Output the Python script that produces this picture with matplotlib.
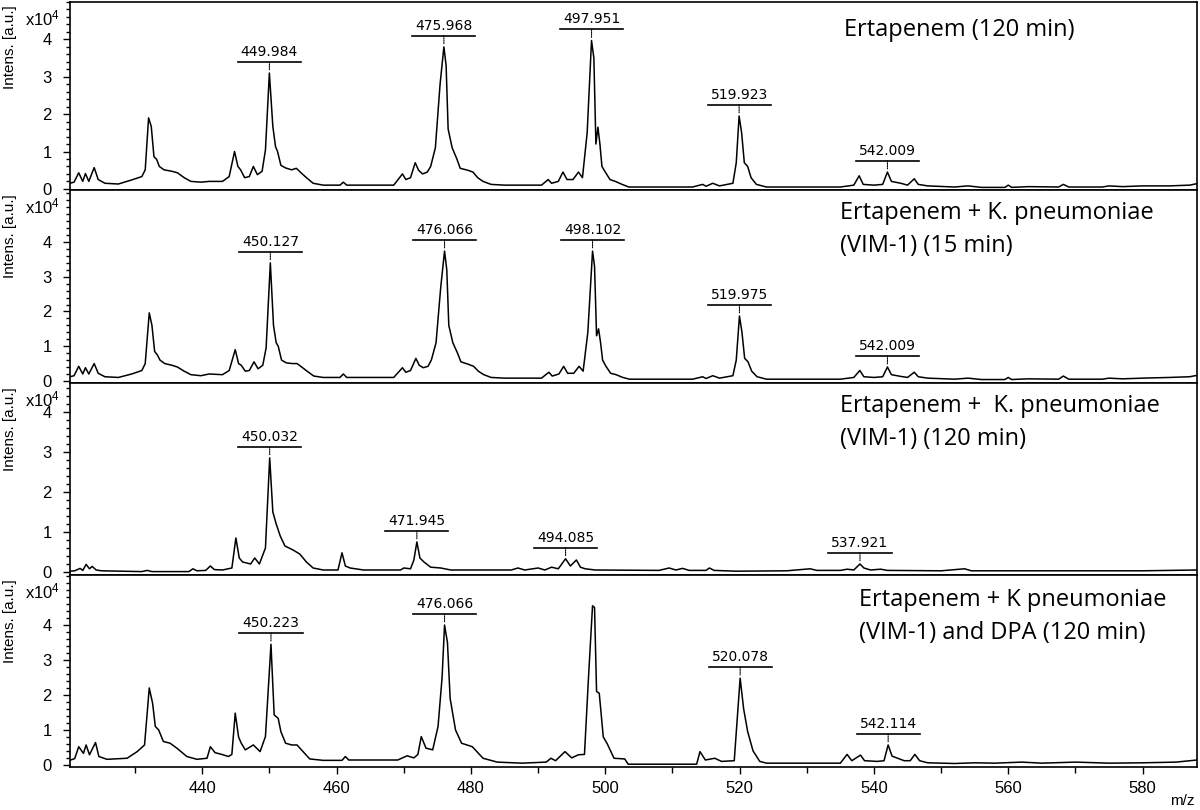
import numpy as np
import matplotlib
matplotlib.use('Agg')
import matplotlib.pyplot as plt
from matplotlib.ticker import MultipleLocator, FixedLocator
from matplotlib.transforms import offset_copy

# spectra: (m/z, intensity in 1e4 a.u.)
spec_ertapenem_120 = [
    (420.3, 0.15), (420.9, 0.18), (421.6, 0.43), (422.2, 0.2), (422.6, 0.41), (423.1, 0.2), (423.9, 0.57),
    (424.5, 0.25), (425.5, 0.15), (427.5, 0.13), (429.5, 0.24), (431.0, 0.33), (431.5, 0.51), (432.0, 1.9),
    (432.4, 1.67), (432.8, 0.86), (433.2, 0.79), (433.6, 0.6), (434.3, 0.51), (435.5, 0.47), (436.3, 0.43),
    (437.3, 0.3), (438.3, 0.2), (439.8, 0.18), (441.0, 0.2), (443.0, 0.2), (444.0, 0.33), (444.8, 1.0),
    (445.3, 0.6), (445.7, 0.51), (446.3, 0.3), (447.0, 0.33), (447.6, 0.6), (448.2, 0.38), (448.9, 0.47),
    (449.4, 1.04), (449.984, 3.1), (450.5, 1.67), (450.9, 1.13), (451.2, 1.0), (451.7, 0.63), (452.4, 0.56),
    (453.3, 0.51), (454.0, 0.55), (454.7, 0.43), (455.5, 0.3), (456.5, 0.15), (458.0, 0.1), (460.5, 0.1),
    (461.0, 0.18), (461.5, 0.1), (464.0, 0.1), (468.5, 0.1), (469.8, 0.4), (470.3, 0.25), (471.0, 0.3),
    (471.7, 0.7), (472.2, 0.5), (472.8, 0.4), (473.5, 0.45), (474.0, 0.6), (474.7, 1.1), (475.4, 2.8),
    (475.968, 3.8), (476.3, 3.3), (476.6, 1.6), (477.2, 1.1), (477.9, 0.8), (478.4, 0.55), (479.5, 0.5),
    (480.3, 0.45), (481.0, 0.3), (481.8, 0.2), (483.0, 0.12), (485.0, 0.1), (490.5, 0.1), (491.5, 0.25),
    (492.0, 0.15), (493.0, 0.2), (493.7, 0.45), (494.3, 0.25), (495.2, 0.25), (496.0, 0.45), (496.6, 0.3),
    (497.3, 1.5), (497.951, 3.97), (498.3, 3.5), (498.6, 1.2), (498.9, 1.65), (499.2, 1.2), (499.5, 0.6),
    (500.0, 0.45), (500.7, 0.25), (501.5, 0.2), (502.5, 0.12), (503.5, 0.05), (513.0, 0.05), (514.5, 0.12),
    (515.0, 0.07), (516.0, 0.15), (517.0, 0.08), (519.0, 0.15), (519.5, 0.7), (519.923, 1.95), (520.3, 1.5),
    (520.7, 0.7), (521.2, 0.6), (521.7, 0.3), (522.5, 0.12), (524.0, 0.05), (535.0, 0.05), (537.0, 0.1),
    (537.8, 0.35), (538.4, 0.12), (540.0, 0.1), (541.3, 0.12), (542.009, 0.45), (542.6, 0.2), (544.0, 0.15),
    (545.0, 0.1), (546.0, 0.27), (546.6, 0.12), (548.0, 0.08), (552.0, 0.05), (554.0, 0.08), (556.0, 0.04),
    (559.5, 0.04), (560.0, 0.1), (560.5, 0.04), (563.0, 0.06), (567.5, 0.05), (568.2, 0.12), (569.0, 0.05),
    (574.0, 0.05), (575.0, 0.08), (577.0, 0.06), (580.0, 0.08), (584.0, 0.08), (587.0, 0.1), (588.1, 0.14),
]
spec_kp_15 = [
    (420.3, 0.12), (420.9, 0.15), (421.6, 0.42), (422.2, 0.2), (422.6, 0.38), (423.1, 0.2), (423.9, 0.5),
    (424.5, 0.22), (425.5, 0.12), (427.5, 0.1), (429.5, 0.2), (431.0, 0.3), (431.5, 0.5), (432.1, 1.96),
    (432.5, 1.6), (432.9, 0.85), (433.3, 0.75), (433.7, 0.6), (434.4, 0.5), (435.5, 0.45), (436.3, 0.4),
    (437.3, 0.28), (438.3, 0.18), (439.8, 0.15), (441.0, 0.2), (443.0, 0.18), (444.0, 0.3), (444.9, 0.9),
    (445.4, 0.5), (445.8, 0.45), (446.4, 0.28), (447.0, 0.3), (447.7, 0.55), (448.3, 0.35), (449.0, 0.45),
    (449.5, 0.95), (450.127, 3.4), (450.6, 1.6), (451.0, 1.1), (451.3, 1.0), (451.8, 0.6), (452.5, 0.52),
    (453.4, 0.5), (454.1, 0.5), (454.8, 0.4), (455.6, 0.28), (456.6, 0.14), (458.0, 0.1), (460.5, 0.1),
    (461.0, 0.2), (461.5, 0.1), (464.0, 0.1), (468.5, 0.1), (469.8, 0.38), (470.3, 0.25), (471.0, 0.3),
    (471.8, 0.65), (472.3, 0.45), (472.9, 0.38), (473.6, 0.42), (474.1, 0.6), (474.8, 1.1), (475.5, 2.7),
    (476.066, 3.74), (476.4, 3.2), (476.7, 1.6), (477.3, 1.1), (478.0, 0.8), (478.5, 0.55), (479.6, 0.48),
    (480.4, 0.42), (481.1, 0.28), (481.9, 0.18), (483.0, 0.1), (485.0, 0.08), (490.5, 0.08), (491.6, 0.25),
    (492.1, 0.14), (493.1, 0.2), (493.8, 0.42), (494.4, 0.22), (495.3, 0.22), (496.1, 0.42), (496.7, 0.28),
    (497.4, 1.4), (498.102, 3.74), (498.4, 3.3), (498.7, 1.3), (499.0, 1.5), (499.3, 1.1), (499.6, 0.6),
    (500.1, 0.42), (500.8, 0.22), (501.6, 0.18), (502.6, 0.1), (503.6, 0.05), (513.0, 0.05), (514.5, 0.12),
    (515.0, 0.07), (516.0, 0.15), (517.0, 0.08), (519.0, 0.15), (519.5, 0.6), (519.975, 1.87), (520.35, 1.4),
    (520.75, 0.65), (521.25, 0.55), (521.8, 0.28), (522.6, 0.12), (524.0, 0.05), (535.0, 0.05), (537.0, 0.1),
    (537.9, 0.3), (538.5, 0.12), (540.0, 0.1), (541.3, 0.12), (542.009, 0.4), (542.6, 0.18), (544.0, 0.13),
    (545.0, 0.1), (546.0, 0.25), (546.6, 0.12), (548.0, 0.08), (552.0, 0.05), (554.0, 0.08), (556.0, 0.04),
    (559.5, 0.04), (560.0, 0.1), (560.5, 0.04), (563.0, 0.06), (567.5, 0.05), (568.2, 0.14), (569.0, 0.05),
    (574.0, 0.05), (575.0, 0.08), (577.0, 0.06), (580.0, 0.08), (584.0, 0.1), (587.0, 0.12), (588.1, 0.16),
]
spec_kp_120 = [
    (420.3, 0.02), (421.0, 0.03), (421.8, 0.09), (422.2, 0.04), (422.7, 0.19), (423.2, 0.08), (423.6, 0.14),
    (424.2, 0.05), (425.0, 0.03), (431.0, 0.01), (431.8, 0.04), (432.5, 0.01), (438.0, 0.01), (438.6, 0.08),
    (439.2, 0.03), (440.5, 0.04), (441.2, 0.15), (441.8, 0.06), (443.0, 0.05), (444.4, 0.1), (445.0, 0.85),
    (445.5, 0.35), (446.0, 0.25), (447.2, 0.2), (447.8, 0.35), (448.5, 0.2), (449.4, 0.6), (450.032, 2.85),
    (450.5, 1.5), (451.0, 1.2), (451.6, 0.9), (452.3, 0.65), (453.5, 0.55), (454.5, 0.45), (455.5, 0.25),
    (456.5, 0.1), (458.0, 0.05), (460.2, 0.05), (460.8, 0.48), (461.3, 0.15), (462.0, 0.1), (464.0, 0.05),
    (469.5, 0.05), (470.0, 0.1), (471.0, 0.08), (471.5, 0.3), (471.945, 0.75), (472.4, 0.35), (473.0, 0.25),
    (474.0, 0.12), (475.5, 0.1), (477.0, 0.05), (486.0, 0.05), (487.0, 0.1), (488.0, 0.05), (490.0, 0.1),
    (491.0, 0.05), (492.0, 0.12), (493.0, 0.08), (494.085, 0.33), (494.8, 0.15), (495.7, 0.3), (496.3, 0.12),
    (497.0, 0.08), (498.5, 0.05), (508.0, 0.04), (509.5, 0.1), (510.5, 0.05), (511.5, 0.09), (512.5, 0.04),
    (515.0, 0.04), (515.5, 0.1), (516.2, 0.04), (519.5, 0.02), (527.0, 0.03), (530.5, 0.08), (531.5, 0.04),
    (535.0, 0.04), (536.0, 0.07), (537.0, 0.05), (537.921, 0.2), (538.5, 0.1), (539.5, 0.05), (541.0, 0.07),
    (542.0, 0.04), (550.0, 0.03), (553.5, 0.08), (554.5, 0.03), (567.0, 0.03), (580.0, 0.03), (588.1, 0.05),
]
spec_kp_dpa = [
    (420.4, 0.14), (421.0, 0.18), (421.6, 0.52), (422.3, 0.33), (422.7, 0.57), (423.2, 0.29), (424.1, 0.64),
    (424.6, 0.24), (425.8, 0.16), (428.8, 0.19), (430.3, 0.38), (431.4, 0.57), (432.1, 2.2), (432.6, 1.76),
    (433.0, 1.1), (433.5, 1.0), (434.2, 0.67), (435.2, 0.62), (436.2, 0.48), (437.7, 0.24), (439.2, 0.16),
    (440.7, 0.19), (441.2, 0.52), (441.9, 0.35), (442.9, 0.3), (443.9, 0.24), (444.4, 0.3), (444.9, 1.48),
    (445.4, 0.8), (445.8, 0.62), (446.4, 0.43), (447.6, 0.57), (448.6, 0.38), (449.4, 0.81), (450.223, 3.45),
    (450.7, 1.43), (451.3, 1.33), (451.7, 0.95), (452.4, 0.62), (453.3, 0.57), (454.1, 0.57), (455.0, 0.38),
    (456.0, 0.17), (458.0, 0.13), (460.8, 0.13), (461.3, 0.24), (461.8, 0.14), (469.1, 0.14), (470.5, 0.26),
    (471.5, 0.2), (472.1, 0.3), (472.6, 0.81), (473.3, 0.48), (474.3, 0.43), (475.1, 1.1), (475.7, 2.5),
    (476.066, 4.0), (476.5, 3.5), (476.9, 1.9), (477.7, 1.0), (478.6, 0.62), (480.2, 0.52), (481.8, 0.19),
    (483.9, 0.08), (487.6, 0.05), (491.2, 0.08), (491.9, 0.19), (492.6, 0.12), (494.0, 0.38), (495.0, 0.2),
    (496.0, 0.29), (496.9, 0.3), (497.5, 2.5), (498.1, 4.55), (498.4, 4.5), (498.7, 2.1), (499.1, 2.05),
    (499.7, 0.8), (500.3, 0.6), (501.3, 0.19), (502.9, 0.17), (503.4, 0.02), (513.6, 0.02), (514.1, 0.38),
    (514.9, 0.14), (516.3, 0.19), (517.3, 0.1), (519.2, 0.12), (520.078, 2.48), (520.6, 1.6), (521.2, 0.95),
    (522.0, 0.4), (523.0, 0.1), (524.0, 0.05), (535.0, 0.05), (536.0, 0.3), (536.7, 0.12), (538.0, 0.28),
    (538.6, 0.12), (540.5, 0.1), (541.5, 0.12), (542.114, 0.57), (542.7, 0.25), (544.5, 0.12), (545.4, 0.12),
    (546.1, 0.3), (546.8, 0.12), (548.0, 0.06), (552.0, 0.04), (555.0, 0.06), (558.0, 0.05), (562.0, 0.08),
    (565.0, 0.05), (570.0, 0.08), (575.0, 0.05), (580.0, 0.06), (585.0, 0.08), (588.1, 0.14),
]

labels_ertapenem_120 = ['449.984', '475.968', '497.951', '519.923', '542.009']
labels_kp_15 = ['450.127', '476.066', '498.102', '519.975', '542.009']
labels_kp_120 = ['450.032', '471.945', '494.085', '537.921']
labels_kp_dpa = ['450.223', '476.066', '520.078', '542.114']

titles = [
    'Ertapenem (120 min)',
    'Ertapenem + K. pneumoniae\n(VIM-1) (15 min)',
    'Ertapenem +  K. pneumoniae\n(VIM-1) (120 min)',
    'Ertapenem + K pneumoniae\n(VIM-1) and DPA (120 min)',
]

plt.rcParams['font.family'] = 'Liberation Sans'
plt.rcParams['mathtext.default'] = 'regular'

W, H = 1200, 810
fig = plt.figure(figsize=(W / 100, H / 100), dpi=100)

# panel layout in pixels: (top, bottom), y limits, title position
rows = [
    (2, 190, (-0.03, 5.0), (0.687, 0.851)),
    (190, 383, (-0.06, 5.5), (0.683, 0.793)),
    (383, 575, (-0.075, 4.72), (0.683, 0.792)),
    (575, 767, (-0.06, 5.43), (0.700, 0.786)),
]
spectra = [spec_ertapenem_120, spec_kp_15, spec_kp_120, spec_kp_dpa]
labels = [labels_ertapenem_120, labels_kp_15, labels_kp_120, labels_kp_dpa]
left, right = 70, 1197

for i, (spec, labs, title, row) in enumerate(zip(spectra, labels, titles, rows)):
    top, bot, ylim, tpos = row
    ax = fig.add_axes([left / W, 1 - bot / H, (right - left) / W, (bot - top) / H])
    mz, inten = zip(*spec)
    ax.plot(mz, inten, color='black', lw=1.1)

    bar_tr = offset_copy(ax.transData, fig=fig, x=0, y=11, units='dots')
    txt_tr = offset_copy(ax.transData, fig=fig, x=0, y=14, units='dots')
    for lab in labs:
        m = float(lab)
        h = np.interp(m, mz, inten)
        ax.plot([m - 4.7, m + 4.7], [h, h], transform=bar_tr, color='black', lw=1.2, clip_on=False)
        ax.text(m, h, lab, transform=txt_tr, ha='center', va='bottom', fontsize=10,
                family='DejaVu Sans', clip_on=False)
        ax.annotate('', xy=(m, h), xytext=(0, 11), textcoords='offset pixels',
                    arrowprops=dict(arrowstyle='-', linestyle=(0, (1, 1)), lw=0.8,
                                    shrinkA=0, shrinkB=2))

    ax.set_xlim(420.3, 588.1)
    ax.set_ylim(*ylim)
    ax.yaxis.set_major_locator(FixedLocator([0, 1, 2, 3, 4]))
    ax.yaxis.set_minor_locator(MultipleLocator(0.2))
    ax.tick_params(axis='y', which='major', direction='out', length=5, width=1, labelsize=12, pad=8)
    ax.tick_params(axis='y', which='minor', direction='out', length=3, width=1)
    for s in ax.spines.values():
        s.set_linewidth(1.2)

    if i < 3:
        ax.tick_params(axis='x', which='both', bottom=False, labelbottom=False)
    else:
        ax.xaxis.set_major_locator(MultipleLocator(20))
        ax.xaxis.set_minor_locator(MultipleLocator(10))
        ax.tick_params(axis='x', which='major', direction='out', length=5, width=1, labelsize=12, pad=5)
        ax.tick_params(axis='x', which='minor', direction='out', length=4, width=1)

    ax.text(-0.053, 0.76, 'Intens. [a.u.]', rotation=90, ha='center', va='center',
            fontsize=11, transform=ax.transAxes)
    ax.annotate('x10$^4$', xy=(0, 1), xycoords='axes fraction', xytext=(-10, -16),
                textcoords='offset pixels', ha='right', va='center', fontsize=12)
    ax.text(tpos[0], tpos[1], title, ha='left', va='center', fontsize=17, family='Open Sans',
            linespacing=1.5, transform=ax.transAxes)

fig.text(1182 / W, 1 - 801 / H, 'm/z', ha='center', va='center', fontsize=11)

fig.savefig('out.png', dpi=100)
